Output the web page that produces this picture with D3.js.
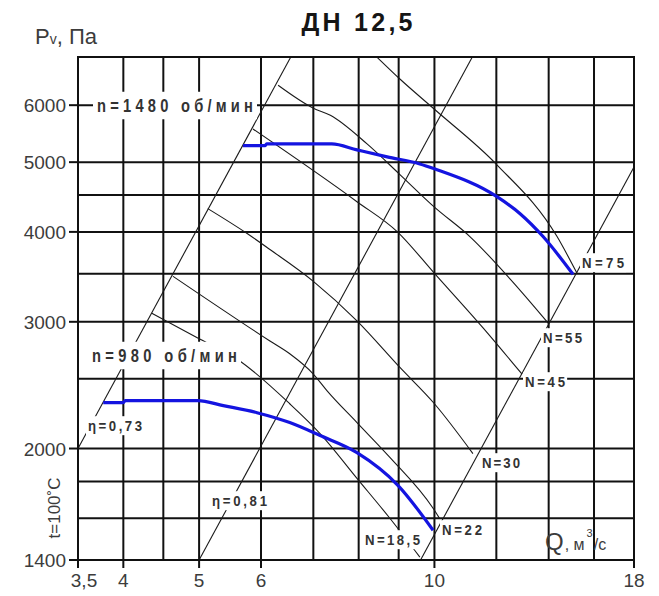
<!DOCTYPE html>
<html><head><meta charset="utf-8">
<script src="https://cdn.jsdelivr.net/npm/d3@7"></script>
<style>body{margin:0;background:#fff}svg{display:block}</style>
</head><body><svg id="c" width="659" height="596"></svg>
<script>
// ---------- data ----------
const xGrid = [3.5,4,4.5,5,6,7,8,9,10,12,14,16,18];
const yGrid = [1400,1600,1800,2000,2500,3000,3500,4000,4500,5000,6000,7000];
const xTicks = [3.5,4,5,6,10,18];
const xTickLabels = ["3,5","4","5","6","10","18"];
const yTicks = [1400,2000,3000,4000,5000,6000];
const yTickLabels = ["1400","2000","3000","4000","5000","6000"];

// performance curves (Q m3/s, Pv Pa)
const curve1480 = [[5.69,5270],[6.07,5270],[6.1,5300],[7.39,5300],[7.96,5200],[8.70,5085],[9.58,4972],[10,4894],[12.02,4477],[12.87,4240],[13.77,3941],[15.04,3492]];
const curve980  = [[3.77,2316],[4.0,2316],[4.02,2331],[4.98,2331],[5.37,2294],[5.93,2243],[6.53,2173],[7.14,2085],[7.96,1974],[8.98,1778],[9.96,1540]];

// system lines (efficiency boundaries)
const lineEta073 = [[3.5,2000],[6.55,7000]];
const lineEta081 = [[5,1400],[11.18,7000]];
const lineRight  = [[9.6,1400],[18,4922]];

// power lines
const powerN75  = [[8.44,7000],[9.04,6519],[10,5922],[12.02,4958],[14.35,3941],[15.22,3503]];
const powerN55  = [[6.31,6395],[7.0,5943],[7.36,5809],[8.2,5300],[9.04,4802],[10,4330],[11.1,3941],[12.5,3440],[13.98,2988]];
const powerN45  = [[5.86,5560],[7.96,4406],[8.96,4004],[10,3503],[11.54,2942],[12.94,2538]];
const powerN30  = [[5.13,4309],[5.76,3979],[6.16,3781],[7.0,3415],[7.96,3009],[9.04,2590],[10,2308],[11.2,1968]];
const powerN22  = [[4.63,3470],[6.16,2821],[6.53,2708],[7.0,2538],[7.29,2405],[7.96,2173],[8.77,1944],[9.96,1652],[10.15,1600]];
const powerN185 = [[4.35,3084],[4.98,2849],[5.59,2664],[6.53,2308],[7.14,2098],[7.96,1818],[8.77,1600],[9.58,1413]];

// ---------- drawing ----------
const svg = d3.select("#c");
const x = d3.scaleLog().domain([3.5,18]).range([78,634]);
const y = d3.scaleLog().domain([1400,7000]).range([560,57]);
const line = d3.line().x(d=>x(d[0])).y(d=>y(d[1]));
const smooth = d3.line().x(d=>x(d[0])).y(d=>y(d[1])).curve(d3.curveMonotoneX);
const font = "'Liberation Sans', Arial, sans-serif";

const g = svg.append("g");
// grid
g.selectAll(".vx").data(xGrid).join("line")
  .attr("x1",d=>x(d)).attr("x2",d=>x(d)).attr("y1",y(7000)).attr("y2",y(1400))
  .attr("stroke","#111").attr("stroke-width",2);
g.selectAll(".hy").data(yGrid).join("line")
  .attr("y1",d=>y(d)).attr("y2",d=>y(d)).attr("x1",x(3.5)).attr("x2",x(18))
  .attr("stroke","#111").attr("stroke-width",2);

// ticks
g.selectAll(".yt").data(yTicks).join("line")
  .attr("y1",d=>y(d)).attr("y2",d=>y(d)).attr("x1",x(3.5)-9).attr("x2",x(3.5))
  .attr("stroke","#111").attr("stroke-width",2);
g.selectAll(".xt").data(xTicks).join("line")
  .attr("x1",d=>x(d)).attr("x2",d=>x(d)).attr("y1",y(1400)).attr("y2",y(1400)+8)
  .attr("stroke","#111").attr("stroke-width",2);

// thin lines
g.selectAll(".sys").data([lineEta073,lineEta081,lineRight]).join("path").attr("d",line)
  .attr("fill","none").attr("stroke","#1a1a1a").attr("stroke-width",1.1);
g.selectAll(".pw").data([powerN75,powerN55,powerN45,powerN30,powerN22,powerN185]).join("path").attr("d",smooth)
  .attr("fill","none").attr("stroke","#1a1a1a").attr("stroke-width",1.1);

// blue curves
g.selectAll(".perf").data([curve1480,curve980]).join("path").attr("d",smooth)
  .attr("fill","none").attr("stroke","#1414e0").attr("stroke-width",3.2);

// tick labels
g.selectAll(".ytl").data(yTicks).join("text")
  .attr("x",x(3.5)-12).attr("y",d=>y(d)+7).attr("text-anchor","end")
  .attr("font-family",font).attr("font-size",19).attr("fill","#3c3c3c")
  .text((d,i)=>yTickLabels[i]);
g.selectAll(".xtl").data(xTicks).join("text")
  .attr("x",(d,i)=>x(d)+(i===0?6:0)).attr("y",y(1400)+27).attr("text-anchor","middle")
  .attr("font-family",font).attr("font-size",19).attr("fill","#3c3c3c")
  .text((d,i)=>xTickLabels[i]);

// narrow, spaced labels with white background
function blabel(txt, px, py, opts={}) {
  const sx = opts.sx || 0.88;
  const grp = g.append("g").attr("transform",`translate(${px},${py}) scale(${sx},1)`);
  const t = grp.append("text").attr("x",0).attr("y",0)
    .attr("font-family",font).attr("font-weight","bold")
    .attr("font-size",opts.size||15).attr("fill",opts.fill||"#333").text(txt);
  if (opts.len) t.attr("textLength",opts.len/sx).attr("lengthAdjust","spacing");
  const b = t.node().getBBox();
  const pad = opts.pad||[3,1];
  grp.insert("rect","text").attr("x",b.x-pad[0]/sx).attr("y",b.y-pad[1])
    .attr("width",b.width+2*pad[0]/sx).attr("height",b.height+2*pad[1]).attr("fill","#fff");
}

blabel("n=1480 об/мин", 97, 112, {size:17.5, sx:0.84, len:156, pad:[4,4], fill:"#333"});
blabel("n=980 об/мин", 92, 362, {size:17.5, sx:0.84, len:145, pad:[4,4], fill:"#333"});
blabel("η=0,73", 88, 431, {size:15, len:54, pad:[2,1]});
blabel("η=0,81", 212, 506, {size:15, len:55, pad:[2,1]});
blabel("N=75", 582, 268, {size:15, len:42, pad:[2,1]});
blabel("N=55", 543, 343, {size:15, len:39, pad:[2,1]});
blabel("N=45", 525, 387, {size:15, len:40, pad:[2,1]});
blabel("N=30", 482, 468, {size:15, len:38, pad:[2,1]});
blabel("N=22", 442, 535, {size:15, len:40, pad:[2,1]});
blabel("N=18,5", 365, 545, {size:15, len:55, pad:[2,1]});

// frame
g.append("rect").attr("x",x(3.5)).attr("y",y(7000)).attr("width",x(18)-x(3.5)).attr("height",y(1400)-y(7000))
  .attr("fill","none").attr("stroke","#111").attr("stroke-width",2);

// title & axis titles
svg.append("text").attr("x",357).attr("y",31).attr("text-anchor","middle")
  .attr("font-family",font).attr("font-weight","bold").attr("font-size",25).attr("fill","#151515")
  .attr("textLength",111).attr("lengthAdjust","spacing").text("ДН 12,5");
const pv = svg.append("text").attr("x",35).attr("y",44).attr("font-family",font).attr("font-size",22).attr("fill","#3c3c3c");
pv.append("tspan").text("P");
pv.append("tspan").attr("font-size",14).text("v");
pv.append("tspan").text(", Па");
svg.append("text").attr("transform","translate(60,508) rotate(-90)").attr("text-anchor","middle")
  .attr("font-family",font).attr("font-size",17).attr("fill","#3c3c3c").text("t=100˚С");
const q = svg.append("text").attr("x",545).attr("y",550).attr("font-family",font).attr("fill","#3c3c3c");
q.append("tspan").attr("font-size",24).text("Q");
q.append("tspan").attr("font-size",16).attr("dx",1).text(", м");
q.append("tspan").attr("font-size",11).attr("dy",-13).attr("dx",2).text("3");
q.append("tspan").attr("font-size",16).attr("dy",13).attr("dx",1).text("/с");
</script></body></html>
